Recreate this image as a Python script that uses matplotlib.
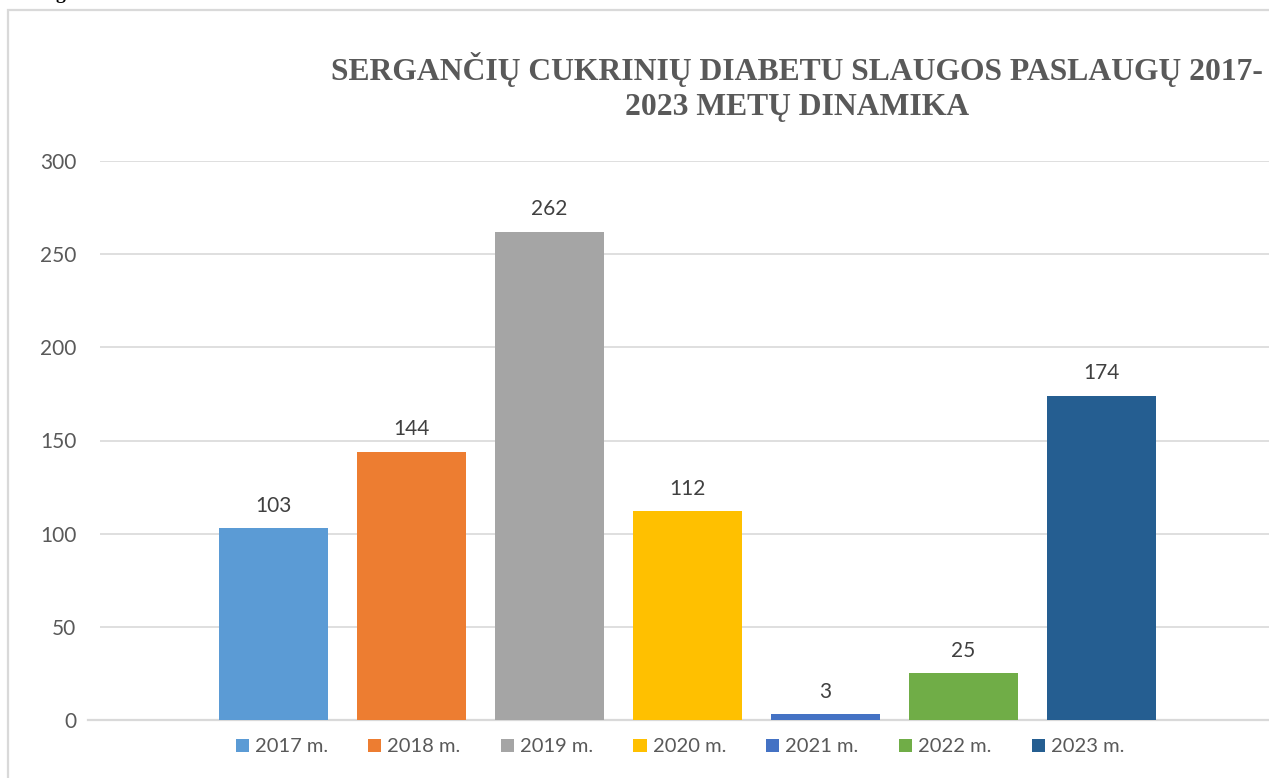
import matplotlib
matplotlib.use("Agg")
import matplotlib.pyplot as plt
from matplotlib.patches import Rectangle

years = ["2017 m.", "2018 m.", "2019 m.", "2020 m.", "2021 m.", "2022 m.", "2023 m."]
values = [103, 144, 262, 112, 3, 25, 174]
colors = ["#5B9BD5", "#ED7D31", "#A5A5A5", "#FFC000", "#4472C4", "#70AD47", "#255E91"]
yticks = [0, 50, 100, 150, 200, 250, 300]
title = "SERGANČIŲ CUKRINIŲ DIABETU SLAUGOS PASLAUGŲ 2017-\n2023 METŲ DINAMIKA"

W, H = 1269, 778
fig = plt.figure(figsize=(W / 100, H / 100), dpi=100)
fig.patch.set_facecolor("white")

# chart border (extends beyond the right/bottom edges)
fig.patches.append(Rectangle((8 / W, -0.1), 1.2, 1 - 10 / H + 0.1,
                             transform=fig.transFigure, fill=False,
                             edgecolor="#d9d9d9", linewidth=1.6))

ax = fig.add_axes([100 / W, 1 - 720 / H, 1175 / W, (720 - 161) / H])
ax.set_facecolor("none")
tick_font = "Lato"
gray = "#595959"

x = list(range(len(values)))
bars = ax.bar(x, values, width=109 / 138, color=colors, label=years, zorder=3)
for xi, v in zip(x, values):
    ax.annotate(str(v), (xi, v), xytext=(0, 9), textcoords="offset points",
                ha="center", va="bottom", fontsize=15, color="#404040",
                family=tick_font)

ax.set_xlim(-1.257, 7.257)
ax.set_ylim(0, 300)
ax.set_yticks(yticks)
ax.set_yticklabels([str(t) for t in yticks], fontsize=15, color=gray, family=tick_font)
ax.tick_params(axis="y", length=0, pad=17)
ax.set_xticks([])
ax.grid(axis="y", color="#d9d9d9", linewidth=1.2, zorder=0)
for s in ax.spines.values():
    s.set_visible(False)
ax.plot([-0.0102, 1], [0, 0], transform=ax.transAxes, color="#d9d9d9",
        linewidth=1.6, clip_on=False, zorder=2)

fig.text(797 / W, 1 - 87 / H, title, ha="center", va="center",
         family="Liberation Serif", fontweight="bold", fontsize=22.8,
         color=gray, linespacing=1.27)

fig.text(56 / W, 1 + 1 / H, "g", ha="left", va="baseline",
         family="Liberation Serif", fontweight="bold", fontsize=14, color="black")

leg = fig.legend(handles=list(bars), labels=years, loc="center",
                 bbox_to_anchor=(680 / W, 1 - 747 / H), ncol=7, frameon=False,
                 handlelength=0.65, handleheight=0.65, handletextpad=0.3,
                 columnspacing=2.0, prop={"family": tick_font, "size": 14.5})
for t in leg.get_texts():
    t.set_color(gray)

fig.savefig("out.png", dpi=100)
